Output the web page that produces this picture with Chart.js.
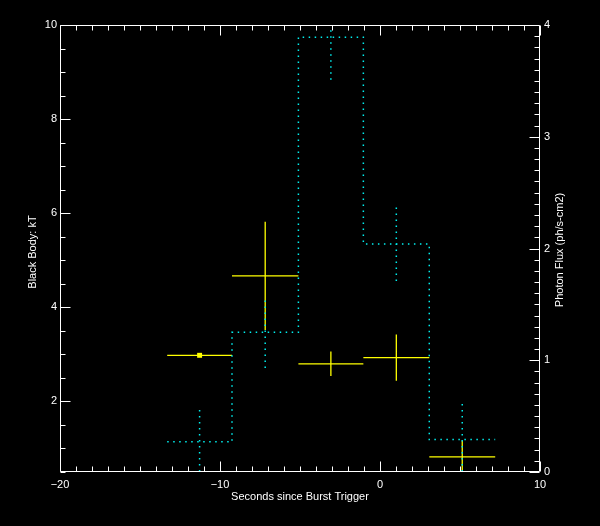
<!DOCTYPE html>
<html>
<head>
<meta charset="utf-8">
<script src="https://cdn.jsdelivr.net/npm/chart.js@4"></script>
<style>
  html, body { margin: 0; padding: 0; background: #000; }
  #wrap { width: 600px; height: 526px; }
</style>
</head>
<body>
<div id="wrap"><canvas id="burstChart" width="600" height="526"></canvas></div>
<script>
// time bins (seconds since trigger)
const binLo = [-13.3, -9.25, -5.1, -1.04, 3.08];
const binHi = [-9.25, -5.1, -1.04, 3.08, 7.2];

// black body kT (left axis)
const kT = [2.98, 4.67, 2.80, 2.93, 0.82];
const kTErr = [0.0, 1.15, 0.26, 0.49, 0.35];

// photon flux (right axis)
const flux = [0.27, 1.25, 3.89, 2.04, 0.29];
const fluxErr = [0.32, 0.32, 0.38, 0.33, 0.34];

// tick labels
const xTicks = [-20, -10, 0, 10];
const kTTicks = [2, 4, 6, 8, 10];
const fluxTicks = [0, 1, 2, 3, 4];

const YELLOW = '#ffff00';
const CYAN = '#00eeee';
const FONT = { family: 'Liberation Sans', size: 11 };

const mid = i => (binLo[i] + binHi[i]) / 2;

// build broken line segments, null breaks the line
function segments(list) {
    const out = [];
    list.forEach(s => {
        out.push(s[0], s[1], { x: s[1].x, y: null });
    });
    return out;
}

const kTHoriz = segments(kT.map((v, i) => [{ x: binLo[i], y: v }, { x: binHi[i], y: v }]));
const kTVert = segments(kT.map((v, i) => [{ x: mid(i), y: v - kTErr[i] }, { x: mid(i), y: v + kTErr[i] }]));

const fluxStep = [];
flux.forEach((v, i) => {
    fluxStep.push({ x: binLo[i], y: v }, { x: binHi[i], y: v });
});
const fluxVert = segments(flux.map((v, i) => [{ x: mid(i), y: v - fluxErr[i] }, { x: mid(i), y: v + fluxErr[i] }]));

// frame, inward ticks and titles
const framePlugin = {
    id: 'frame',
    beforeDraw(chart) {
        const ctx = chart.ctx;
        ctx.save();
        ctx.fillStyle = '#000';
        ctx.fillRect(0, 0, chart.width, chart.height);
        ctx.restore();
    },
    afterDraw(chart) {
        const ctx = chart.ctx;
        const a = chart.chartArea;
        const sx = chart.scales.x, sy = chart.scales.y, sy1 = chart.scales.y1;
        const L = Math.round(a.left) + 0.5, R = Math.round(a.right) - 0.5;
        const T = Math.round(a.top) + 0.5, B = Math.round(a.bottom) - 0.5;
        ctx.save();
        ctx.strokeStyle = '#fff';
        ctx.lineWidth = 1;
        ctx.beginPath();
        ctx.rect(L, T, R - L, B - T);

        for (let v = -20; v <= 10; v++) {
            const px = Math.round(sx.getPixelForValue(v)) + 0.5;
            const len = v % 10 === 0 ? 10 : 5;
            ctx.moveTo(px, B); ctx.lineTo(px, B - len);
            ctx.moveTo(px, T); ctx.lineTo(px, T + len);
        }
        for (let v = 0.5; v <= 10; v += 0.5) {
            const py = Math.round(sy.getPixelForValue(v)) + 0.5;
            const len = v % 2 === 0 ? 10 : 5;
            ctx.moveTo(L, py); ctx.lineTo(L + len, py);
        }
        for (let k = 0; k <= 40; k++) {
            const py = Math.round(sy1.getPixelForValue(k / 10)) + 0.5;
            const len = k % 10 === 0 ? 10 : 5;
            ctx.moveTo(R, py); ctx.lineTo(R - len, py);
        }
        ctx.stroke();

        ctx.fillStyle = '#fff';
        ctx.font = FONT.size + 'px ' + FONT.family;
        ctx.textAlign = 'center';
        ctx.textBaseline = 'middle';
        ctx.fillText('Seconds since Burst Trigger', (a.left + a.right) / 2, 497);

        ctx.save();
        ctx.translate(33, 252);
        ctx.rotate(-Math.PI / 2);
        ctx.fillText('Black Body: kT', 0, 0);
        ctx.restore();

        ctx.save();
        ctx.translate(560, 250);
        ctx.rotate(-Math.PI / 2);
        ctx.fillText('Photon Flux (ph/s-cm2)', 0, 0);
        ctx.restore();
        ctx.restore();
    }
};

const lineDs = (data, color, axis, width, dash) => ({
    data: data,
    yAxisID: axis,
    showLine: true,
    borderColor: color,
    borderWidth: width,
    borderDash: dash || [],
    pointRadius: 0,
    spanGaps: false
});

const tickOpts = (pad) => ({ color: '#fff', font: FONT, padding: pad, autoSkip: false, maxRotation: 0 });
const noGrid = { display: false, drawTicks: false };

new Chart(document.getElementById('burstChart'), {
    type: 'scatter',
    data: {
        datasets: [
            lineDs(fluxStep, CYAN, 'y1', 1.5, [1.5, 4.5]),
            lineDs(fluxVert, CYAN, 'y1', 1.5, [1.5, 4.5]),
            lineDs(kTHoriz, YELLOW, 'y', 1.3),
            lineDs(kTVert, YELLOW, 'y', 1.3),
            {
                data: [{ x: mid(0), y: kT[0] }],
                yAxisID: 'y',
                pointStyle: 'rect',
                pointRadius: 3.5,
                backgroundColor: YELLOW,
                borderColor: YELLOW,
                borderWidth: 0
            }
        ]
    },
    options: {
        responsive: false,
        devicePixelRatio: 1,
        animation: false,
        layout: { padding: { top: 25, left: 0, right: 0, bottom: 0 } },
        plugins: { legend: { display: false }, tooltip: { enabled: false } },
        scales: {
            x: {
                type: 'linear',
                min: -20,
                max: 10,
                grid: noGrid,
                border: { display: false },
                afterBuildTicks: s => { s.ticks = xTicks.map(v => ({ value: v })); },
                afterFit: s => { s.height = 54; },
                ticks: Object.assign(tickOpts(6), {
                    callback: v => String(v).replace('-', '\u2212')
                })
            },
            y: {
                position: 'left',
                min: 0.5,
                max: 10,
                grid: noGrid,
                border: { display: false },
                afterBuildTicks: s => { s.ticks = kTTicks.map(v => ({ value: v })); },
                afterFit: s => { s.width = 60; },
                ticks: tickOpts(3)
            },
            y1: {
                position: 'right',
                min: 0,
                max: 4,
                grid: noGrid,
                border: { display: false },
                afterBuildTicks: s => { s.ticks = fluxTicks.map(v => ({ value: v })); },
                afterFit: s => { s.width = 60; },
                ticks: tickOpts(4)
            }
        }
    },
    plugins: [framePlugin]
});
</script>
</body>
</html>
